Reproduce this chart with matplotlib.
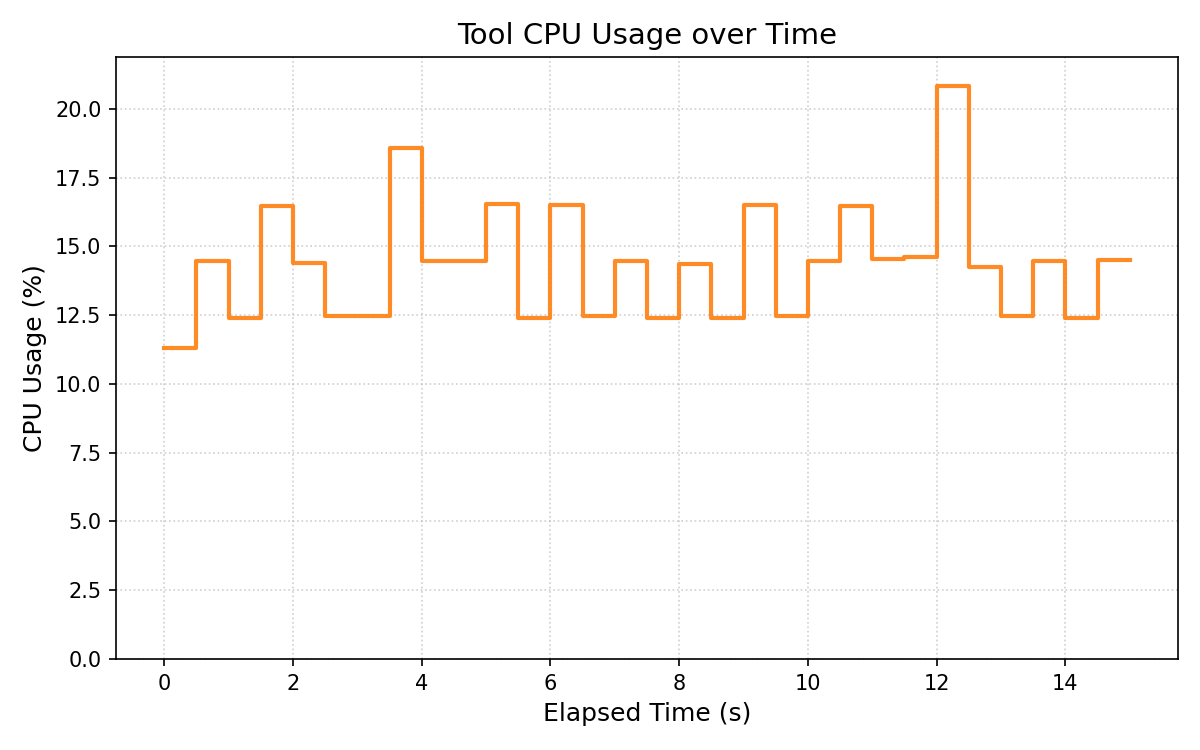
import matplotlib
matplotlib.use("Agg")
import matplotlib.pyplot as plt

elapsed = [0.0, 0.5, 1.0, 1.5, 2.0, 2.5, 3.0, 3.5, 4.0, 4.5, 5.0, 5.5, 6.0, 6.5, 7.0, 7.5,
           8.0, 8.5, 9.0, 9.5, 10.0, 10.5, 11.0, 11.5, 12.0, 12.5, 13.0, 13.5, 14.0, 14.5, 15.0]
cpu = [11.3, 14.45, 12.38, 16.48, 14.4, 12.45, 12.45, 18.58, 14.48, 14.48, 16.54, 12.4,
       16.5, 12.45, 14.48, 12.4, 14.36, 12.38, 16.5, 12.48, 14.48, 16.45, 14.55, 14.6,
       20.84, 14.25, 12.45, 14.45, 12.4, 14.52, 14.52]

fig, ax = plt.subplots(figsize=(8, 5), dpi=150)
ax.step(elapsed, cpu, where='post', color='tab:orange', alpha=0.9, linewidth=2)
ax.set_ylim(0, max(cpu) * 1.05)
ax.set_title("Tool CPU Usage over Time", fontsize=14)
ax.set_xlabel("Elapsed Time (s)", fontsize=12)
ax.set_ylabel("CPU Usage (%)", fontsize=12)
ax.tick_params(labelsize=10)
ax.grid(True, linestyle=':', alpha=0.6)
fig.subplots_adjust(left=116/1200, right=1178/1200, bottom=1-659/750, top=1-57/750)
fig.savefig("out.png")
